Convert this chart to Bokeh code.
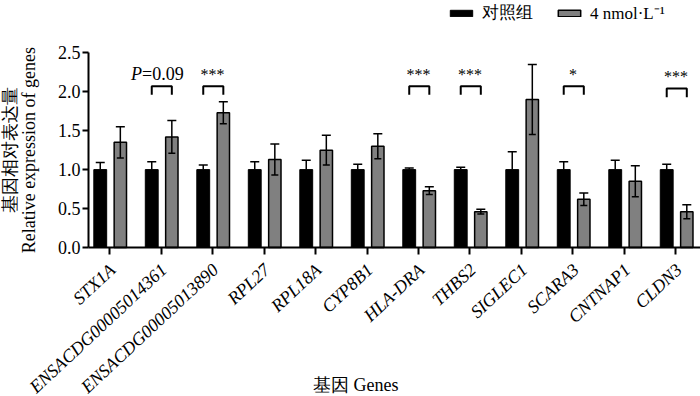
from bokeh.plotting import figure
from bokeh.models import (ColumnDataSource, FixedTicker, Whisker, TeeHead, LinearAxis,
                          Legend, LegendItem)
from bokeh.core.properties import value
from bokeh.embed import file_html
from bokeh.resources import INLINE

# ---- data ----
genes = ["STX1A", "ENSACDG00005014361", "ENSACDG00005013890", "RPL27", "RPL18A",
         "CYP8B1", "HLA-DRA", "THBS2", "SIGLEC1", "SCARA3", "CNTNAP1", "CLDN3"]
control_mean = [1.00, 1.00, 1.00, 1.00, 1.00, 1.00, 1.00, 1.00, 1.00, 1.00, 1.00, 1.00]
control_err = [0.09, 0.10, 0.06, 0.10, 0.12, 0.07, 0.02, 0.03, 0.23, 0.10, 0.12, 0.07]
treat_mean = [1.35, 1.42, 1.73, 1.13, 1.25, 1.30, 0.73, 0.46, 1.90, 0.62, 0.85, 0.46]
treat_err = [0.20, 0.21, 0.14, 0.20, 0.19, 0.16, 0.05, 0.03, 0.45, 0.08, 0.20, 0.09]
sig_labels = ["", "P=0.09", "***", "", "", "", "***", "***", "", "*", "", "***"]
bracket_level = [0, 2.07, 2.07, 0, 0, 0, 2.07, 2.07, 0, 2.07, 0, 2.04]
series_names = ["对照组", "4 nmol·L⁻¹"]
y_ticks = [0.0, 0.5, 1.0, 1.5, 2.0, 2.5]
y_title_cn = "基因相对表达量"
y_title_en = "Relative expression of genes"
x_title = "基因 Genes"

FONT = "Liberation Serif"
OFF_C, OFF_T, BAR_W = -0.18, 0.21, 0.25
Y_MIN, Y_MAX = 0.0, 2.5          # value axis extent
X_AXIS_POS = -0.408              # where the value axis stands

xs = list(range(len(genes)))
src = ColumnDataSource(dict(
    x=xs, gene=genes,
    xc=[i + OFF_C for i in xs], xt=[i + OFF_T for i in xs],
    ctrl=control_mean, ctrl_up=[m + e for m, e in zip(control_mean, control_err)],
    trt=treat_mean,
    trt_up=[m + e for m, e in zip(treat_mean, treat_err)],
    trt_lo=[m - e for m, e in zip(treat_mean, treat_err)],
))

# the frame spans the whole canvas; axes are pinned at fixed data locations
p = figure(width=700, height=396, x_range=(-2.117, 11.476), y_range=(-1.913, 3.171),
           output_backend="svg", toolbar_location=None,
           x_axis_location=None, y_axis_location=None,
           min_border_left=0, min_border_right=0, min_border_top=0, min_border_bottom=0)
p.outline_line_color = None
p.grid.visible = False

r1 = p.vbar(x="xc", top="ctrl", width=BAR_W, fill_color="black", line_color="black",
            line_width=1, source=src)
r2 = p.vbar(x="xt", top="trt", width=BAR_W - 0.01, fill_color="#808080", line_color="black",
            line_width=1.5, source=src)

p.add_layout(Whisker(base="xc", upper="ctrl_up", lower="ctrl", source=src, dimension="height",
                     line_width=1.5, line_color="black", level="overlay",
                     upper_head=TeeHead(size=9, line_width=1.5, line_color="black"),
                     lower_head=None))
p.add_layout(Whisker(base="xt", upper="trt_up", lower="trt_lo", source=src, dimension="height",
                     line_width=1.5, line_color="black", level="overlay",
                     upper_head=TeeHead(size=9, line_width=1.5, line_color="black"),
                     lower_head=TeeHead(size=7, line_width=1.5, line_color="black")))

# significance brackets and marks
bx, by = [], []
star_x, star_y, star_t = [], [], []
for i, (s, b) in enumerate(zip(sig_labels, bracket_level)):
    if not s:
        continue
    bx.append([i + OFF_C, i + OFF_C, i + OFF_T, i + OFF_T])
    by.append([b - 0.11, b, b, b - 0.11])
    if s.startswith("P="):
        p.text(x=[i], y=[b + 0.16], text=["P"], x_offset=-19, text_align="right",
               text_baseline="alphabetic", text_font=value(FONT), text_font_style="italic",
               text_font_size="18px", text_color="black")
        p.text(x=[i], y=[b + 0.16], text=[s[1:]], x_offset=-19, text_align="left",
               text_baseline="alphabetic", text_font=value(FONT),
               text_font_size="18px", text_color="black")
    else:
        star_x.append(i)
        star_y.append(b + 0.15)
        star_t.append(s)
p.multi_line(xs=bx, ys=by, line_color="black", line_width=2)
p.text(x=star_x, y=star_y, text=star_t, text_align="center", text_baseline="alphabetic",
       text_font=value(FONT), text_font_size="16px", text_color="black")

# axes (lines + ticks), pinned at the data origin
xaxis = LinearAxis(fixed_location=0, ticker=FixedTicker(ticks=[], minor_ticks=xs),
                   bounds=(X_AXIS_POS, 11.476))
yaxis = LinearAxis(fixed_location=X_AXIS_POS, ticker=FixedTicker(ticks=[], minor_ticks=y_ticks),
                   bounds=(Y_MIN, Y_MAX))
for ax in (xaxis, yaxis):
    ax.axis_line_width = 2
    ax.axis_line_color = "black"
    ax.minor_tick_line_width = 2
    ax.minor_tick_line_color = "black"
    ax.minor_tick_out = 0
    ax.major_tick_in = 0
    ax.major_tick_out = 0
    ax.major_label_standoff = 0
    ax.axis_label_standoff = 0
xaxis.minor_tick_in = 7
yaxis.minor_tick_in = 6
p.add_layout(xaxis, "above")
p.add_layout(yaxis, "right")

# value-axis tick labels
p.text(x=[X_AXIS_POS] * len(y_ticks), y=y_ticks, text=["%.1f" % t for t in y_ticks],
       x_offset=-8, text_align="right", text_baseline="middle",
       text_font=value(FONT), text_font_size="18px", text_color="black")
# value-axis title (two lines)
y_mid = (Y_MIN + Y_MAX) / 2
p.text(x=[X_AXIS_POS], y=[y_mid], text=[y_title_cn], x_offset=-79, angle=90,
       angle_units="deg", text_align="center", text_baseline="middle",
       text_font=value(FONT), text_font_size="18px", text_color="black")
p.text(x=[X_AXIS_POS], y=[y_mid], text=[y_title_en], x_offset=-60, angle=90,
       angle_units="deg", text_align="center", text_baseline="middle",
       text_font=value(FONT), text_font_size="18px", text_color="black")

# category labels
p.text(x="x", y=-0.25, text="gene", source=src, x_offset=3, angle=43, angle_units="deg",
       text_align="right", text_baseline="middle", text_font=value(FONT),
       text_font_style="italic", text_font_size="18px", text_color="black")
p.text(x=[4.78], y=[-1.77], text=[x_title], text_align="center", text_baseline="middle",
       text_font=value(FONT), text_font_size="18px", text_color="black")

legend = Legend(items=[LegendItem(label=series_names[0], renderers=[r1]),
                       LegendItem(label=series_names[1], renderers=[r2])],
                orientation="horizontal", location=(447, 372), padding=0, margin=0,
                spacing=22, glyph_width=28, glyph_height=8, label_standoff=7,
                label_text_font=FONT, label_text_font_size="17px", label_text_color="black",
                border_line_color=None, background_fill_alpha=0)
p.add_layout(legend)

open("out.html", "w").write(file_html(p, INLINE))
